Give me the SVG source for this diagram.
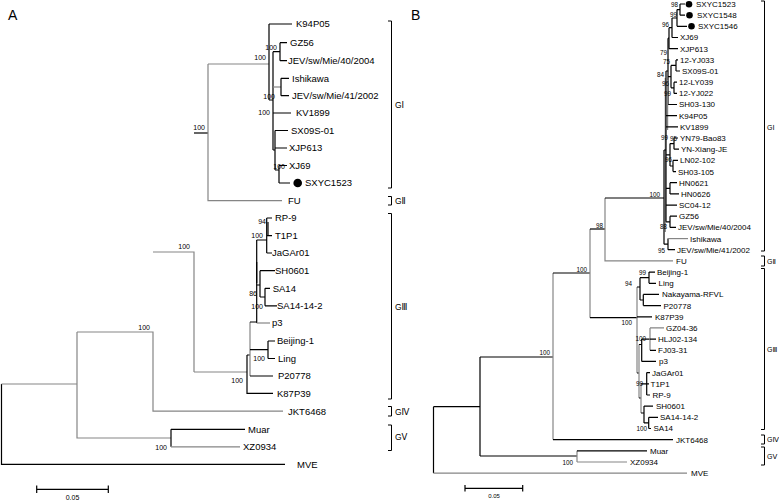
<svg xmlns="http://www.w3.org/2000/svg" width="779" height="501" viewBox="0 0 779 501">
<style>
text{font-family:"Liberation Sans",Arial,"DejaVu Sans",sans-serif;fill:#000}
.la{font-size:9.5px}
.lb{font-size:8px}
.ba{font-size:7px;text-anchor:end}
.bb{font-size:6.3px;text-anchor:end}
.gl{font-size:8.5px}
.glb{font-size:7px}
.k{stroke:#000;stroke-width:1.2;fill:none}
.g{stroke:#858585;stroke-width:1.2;fill:none}
.br{stroke:#000;stroke-width:1;fill:none}
.pl{font-size:14px}
</style>
<rect width="779" height="501" fill="#fff"/>
<text class="pl" x="8" y="20">A</text>
<text class="pl" x="411" y="20">B</text>

<g id="connectors">
<!-- Panel A -->
<path class="k" d="M1.5 384V464.3H285"/>
<path class="g" d="M1.5 384H77M77 332V438H171"/>
<path class="k" d="M171 429.3V446.8M171 429.3H245"/>
<path class="g" d="M171 446.8H240"/>
<path class="g" d="M77 332H153V411.2H283M153 252H194V372"/>
<path class="k" d="M194 133H208"/>
<path class="g" d="M208 64V200.7H282M208 64H269"/>
<path class="k" d="M269 24V100M269 24H292M269 100H273M273 51.7V150M273 51.7H280M280 42.7V60.7M280 42.7H287M280 60.7H287"/>
<path class="g" d="M273 87H281"/>
<path class="k" d="M281 78.3V95.7M281 78.3H289M281 95.7H289M273 113H291M273 150H275M275 130.5V170M275 130.5H288M275 148H287M275 170H279M279 165.5V183M279 165.5H287M279 183H290"/>
<path class="g" d="M194 372H247"/>
<path class="k" d="M247 355V393.3H273M247 355H250"/>
<path class="g" d="M250 322V376"/>
<path class="k" d="M250 376H273M250 349.7H268M268 341V358.5M268 341H275M268 358.5H275"/>
<path class="k" d="M256.7 240V323M250 322H256.7"/>
<path class="k" d="M256.7 262V283" stroke-width="2"/>
<path class="g" d="M256.7 323H270"/>
<path class="k" d="M256.7 285H260M260 270.7V297M260 270.7H275M260 297H265M265 288.3V305.8M265 288.3H270M265 305.8H277"/>
<path class="k" d="M256.7 240H266.7M266.7 218V253M266.7 218H272M266.7 235.7H272M266.7 253H272"/>
<path class="k" d="M268 222V236" stroke-width="1.6"/>
<!-- Panel B -->
<path class="k" d="M433.5 406.7V473.1"/>
<path class="g" d="M433.5 473.1H687"/>
<path class="k" d="M433.5 406.7H480M480 357V456M480 456H577"/>
<path class="g" d="M577 450.8V462M577 462H627"/>
<path class="k" d="M577 450.8H647"/>
<path class="k" d="M480 357H553"/>
<path class="g" d="M553 273V439.6"/>
<path class="k" d="M553 439.6H673M553 273H590"/>
<path class="g" d="M590 229V317.7"/>
<path class="k" d="M590 229H605"/>
<path class="g" d="M605 198V260.9H673"/>
<path class="k" d="M605 198H664M590 317.7H637"/>
<!-- B GI -->
<path class="k" d="M680 4V15.2M680 4H685M680 15.2H685M677 9.6V26.3M677 9.6H680M677 26.3H687"/>
<path class="k" d="M672 18V37.5M672 18H677M672 37.5H678M669 27.7V48.7M669 27.7H672M669 48.7H678"/>
<path class="k" d="M676 59.9V71M676 59.9H678M676 71H680M674 82.2V93.4M674 82.2H677M674 93.4H677M671 65.4V87.8M671 65.4H676M671 87.8H674"/>
<path class="k" d="M668 38.2V104.5M668 38.2H669M668 76.6H671M668 104.5H677"/>
<path class="g" d="M665.3 78V232" stroke-width="2"/>
<path class="g" d="M667.6 80V130" stroke-width="1.6"/>
<path class="k" d="M666 71V221.8M666 71H668M666 115.7H677M666 126.9H678M666 205.1H677"/>
<path class="k" d="M674 138V149.2M674 138H678M674 149.2H679M673 160.4V171.6M673 160.4H678M673 171.6H676M670 143.6V166M670 143.6H674M670 166H673M666 154.8H670"/>
<path class="k" d="M670 182.7V193.9M670 182.7H677M670 193.9H679M666 188.3H670"/>
<path class="k" d="M670 216.2V227.4M670 216.2H677M670 227.4H676M666 221.8H670"/>
<path class="k" d="M664 150V244.2M664 150H666M664 244.2H668"/>
<path class="k" d="M668 238.6V249.7M668 249.7H675"/>
<path class="g" d="M668 238.6H688"/>
<!-- B GIII -->
<path class="g" d="M637 287V373"/>
<path class="k" d="M637 287H640M637 316.8H652M637 373H639"/>
<path class="k" d="M640 277.7V300M640 277.7H649M640 300H643.3M649 272.1V283.3M649 272.1H655M649 283.3H656M643.3 294.4V305.6M643.3 294.4H659M643.3 305.6H661"/>
<path class="g" d="M639 344.5V398"/>
<path class="k" d="M639 344.5H641.7M641.7 339.1V361.4M641.7 339.1H650M641.7 361.4H656"/>
<path class="g" d="M650 327.9V350.3M650 327.9H664"/>
<path class="k" d="M650 339.1H656M650 350.3H656"/>
<path class="k" d="M639 398H641"/>
<path class="g" d="M641 383.8V413"/>
<path class="k" d="M641 383.8H646.7M646.7 372.6V395M646.7 372.6H650M646.7 383.8H649M646.7 395H650"/>
<path class="k" d="M641 413H644M644 406.1V422.9M644 406.1H653M644 422.9H648.7M648.7 417.3V428.5M648.7 417.3H658M648.7 428.5H651"/>
</g>

<g id="bootstrapA">
<text class="ba" x="266" y="60">100</text>
<text class="ba" x="277" y="50">100</text>
<text class="ba" x="275" y="99">100</text>
<text class="ba" x="270" y="115">100</text>
<text class="ba" x="285" y="169">100</text>
<text class="ba" x="205" y="130">100</text>
<text class="ba" x="190" y="249">100</text>
<text class="ba" x="150" y="330">100</text>
<text class="ba" x="167" y="450">100</text>
<text class="ba" x="266" y="224">94</text>
<text class="ba" x="263" y="238">100</text>
<text class="ba" x="257" y="295.5">86</text>
<text class="ba" x="263" y="309">100</text>
<text class="ba" x="265" y="361">100</text>
<text class="ba" x="243" y="383">100</text>
</g>

<g id="bootstrapB">
<text class="bb" x="678" y="7">98</text>
<text class="bb" x="677" y="17">99</text>
<text class="bb" x="669" y="26.5">96</text>
<text class="bb" x="667" y="54.5">79</text>
<text class="bb" x="670" y="64">75</text>
<text class="bb" x="664" y="77">84</text>
<text class="bb" x="669" y="86">96</text>
<text class="bb" x="671" y="95.5">99</text>
<text class="bb" x="677" y="141">95</text>
<text class="bb" x="668" y="139.5">99</text>
<text class="bb" x="672" y="162">96</text>
<text class="bb" x="660" y="196.5">100</text>
<text class="bb" x="667" y="229">88</text>
<text class="bb" x="665" y="252.5">95</text>
<text class="bb" x="603" y="228">98</text>
<text class="bb" x="587" y="271.5">100</text>
<text class="bb" x="550" y="355">100</text>
<text class="bb" x="573" y="464.5">100</text>
<text class="bb" x="646" y="274.5">99</text>
<text class="bb" x="632" y="285.5">94</text>
<text class="bb" x="632" y="325">100</text>
<text class="bb" x="646" y="340.5">100</text>
<text class="bb" x="643" y="385.5">99</text>
<text class="bb" x="647" y="431">100</text>
</g>

<!-- Panel A leaves -->
<g id="a-K94P05"><text class="la" x="296" y="27.4">K94P05</text></g>
<g id="a-GZ56"><text class="la" x="290" y="46.1">GZ56</text></g>
<g id="a-JEV40"><text class="la" x="288" y="64.1">JEV/sw/Mie/40/2004</text></g>
<g id="a-Ishikawa"><text class="la" x="292" y="81.7">Ishikawa</text></g>
<g id="a-JEV41"><text class="la" x="292" y="99.1">JEV/sw/Mie/41/2002</text></g>
<g id="a-KV1899"><text class="la" x="296" y="116.4">KV1899</text></g>
<g id="a-SX09S-01"><text class="la" x="291" y="133.9">SX09S-01</text></g>
<g id="a-XJP613"><text class="la" x="289" y="151.4">XJP613</text></g>
<g id="a-XJ69"><text class="la" x="289" y="168.9">XJ69</text></g>
<g id="a-SXYC1523"><circle cx="297.7" cy="183" r="4.3"/><text class="la" x="305" y="186.4">SXYC1523</text></g>
<g id="a-FU"><text class="la" x="288" y="204.1">FU</text></g>
<g id="a-RP-9"><text class="la" x="275" y="221.4">RP-9</text></g>
<g id="a-T1P1"><text class="la" x="275" y="239.1">T1P1</text></g>
<g id="a-JaGAr01"><text class="la" x="272" y="256.4">JaGAr01</text></g>
<g id="a-SH0601"><text class="la" x="275" y="274.1">SH0601</text></g>
<g id="a-SA14"><text class="la" x="272.7" y="291.7">SA14</text></g>
<g id="a-SA14-14-2"><text class="la" x="277" y="309.2">SA14-14-2</text></g>
<g id="a-p3"><text class="la" x="272" y="326.4">p3</text></g>
<g id="a-Beijing-1"><text class="la" x="277" y="344.4">Beijing-1</text></g>
<g id="a-Ling"><text class="la" x="278" y="361.9">Ling</text></g>
<g id="a-P20778"><text class="la" x="278" y="379.4">P20778</text></g>
<g id="a-K87P39"><text class="la" x="277" y="396.7">K87P39</text></g>
<g id="a-JKT6468"><text class="la" x="288" y="414.6">JKT6468</text></g>
<g id="a-Muar"><text class="la" x="248" y="432.7">Muar</text></g>
<g id="a-XZ0934"><text class="la" x="243" y="450.2">XZ0934</text></g>
<g id="a-MVE"><text class="la" x="297" y="467.7">MVE</text></g>

<g id="a-brackets">
<path class="br" d="M388 21H391.5V188H388M388 196.5H391.5V205H388M388 213.5H391.5V399H388M388 406.5H391.5V416H388M388 425H391.5V450.5H388"/>
<text class="gl" x="395" y="107.5">GⅠ</text>
<text class="gl" x="395" y="204">GⅡ</text>
<text class="gl" x="395" y="310">GⅢ</text>
<text class="gl" x="395" y="414.5">GⅣ</text>
<text class="gl" x="395" y="440">GⅤ</text>
</g>
<g id="a-scale">
<path class="k" d="M36.7 489.3H108.3M36.7 485.5V493M108.3 485.5V493"/>
<text x="72.5" y="500" font-size="7" text-anchor="middle">0.05</text>
</g>

<!-- Panel B leaves -->
<g id="b-SXYC1523"><circle cx="689" cy="4.2" r="3.3"/><text class="lb" x="696" y="6.9">SXYC1523</text></g>
<g id="b-SXYC1548"><circle cx="689.5" cy="15.2" r="3.3"/><text class="lb" x="697" y="18.1">SXYC1548</text></g>
<g id="b-SXYC1546"><circle cx="691.5" cy="26.3" r="3.3"/><text class="lb" x="698" y="29.2">SXYC1546</text></g>
<g id="b-XJ69"><text class="lb" x="680" y="40.4">XJ69</text></g>
<g id="b-XJP613"><text class="lb" x="680" y="51.6">XJP613</text></g>
<g id="b-12-YJ033"><text class="lb" x="680" y="62.8">12-YJ033</text></g>
<g id="b-SX09S-01"><text class="lb" x="682" y="73.9">SX09S-01</text></g>
<g id="b-12-LY039"><text class="lb" x="679" y="85.1">12-LY039</text></g>
<g id="b-12-YJ022"><text class="lb" x="679" y="96.3">12-YJ022</text></g>
<g id="b-SH03-130"><text class="lb" x="679" y="107.4">SH03-130</text></g>
<g id="b-K94P05"><text class="lb" x="679" y="118.6">K94P05</text></g>
<g id="b-KV1899"><text class="lb" x="680" y="129.8">KV1899</text></g>
<g id="b-YN79-Bao83"><text class="lb" x="680" y="140.9">YN79-Bao83</text></g>
<g id="b-YN-Xiang-JE"><text class="lb" x="681" y="152.1">YN-Xiang-JE</text></g>
<g id="b-LN02-102"><text class="lb" x="680" y="163.3">LN02-102</text></g>
<g id="b-SH03-105"><text class="lb" x="678" y="174.5">SH03-105</text></g>
<g id="b-HN0621"><text class="lb" x="679" y="185.6">HN0621</text></g>
<g id="b-HN0626"><text class="lb" x="681" y="196.8">HN0626</text></g>
<g id="b-SC04-12"><text class="lb" x="679" y="208">SC04-12</text></g>
<g id="b-GZ56"><text class="lb" x="679" y="219.1">GZ56</text></g>
<g id="b-JEV40"><text class="lb" x="678" y="230.3">JEV/sw/Mie/40/2004</text></g>
<g id="b-Ishikawa"><text class="lb" x="690" y="241.5">Ishikawa</text></g>
<g id="b-JEV41"><text class="lb" x="677" y="252.6">JEV/sw/Mie/41/2002</text></g>
<g id="b-FU"><text class="lb" x="676" y="263.8">FU</text></g>
<g id="b-Beijing-1"><text class="lb" x="657" y="275">Beijing-1</text></g>
<g id="b-Ling"><text class="lb" x="658.5" y="286.2">Ling</text></g>
<g id="b-Nakayama-RFVL"><text class="lb" x="662" y="297.3">Nakayama-RFVL</text></g>
<g id="b-P20778"><text class="lb" x="663.5" y="308.5">P20778</text></g>
<g id="b-K87P39"><text class="lb" x="655" y="319.7">K87P39</text></g>
<g id="b-GZ04-36"><text class="lb" x="666" y="330.8">GZ04-36</text></g>
<g id="b-HLJ02-134"><text class="lb" x="658" y="342">HLJ02-134</text></g>
<g id="b-FJ03-31"><text class="lb" x="658" y="353.2">FJ03-31</text></g>
<g id="b-p3"><text class="lb" x="659" y="364.3">p3</text></g>
<g id="b-JaGAr01"><text class="lb" x="652" y="375.5">JaGAr01</text></g>
<g id="b-T1P1"><text class="lb" x="650.5" y="386.7">T1P1</text></g>
<g id="b-RP-9"><text class="lb" x="652.5" y="397.9">RP-9</text></g>
<g id="b-SH0601"><text class="lb" x="656" y="409">SH0601</text></g>
<g id="b-SA14-14-2"><text class="lb" x="660" y="420.2">SA14-14-2</text></g>
<g id="b-SA14"><text class="lb" x="653.5" y="431.4">SA14</text></g>
<g id="b-JKT6468"><text class="lb" x="676" y="442.5">JKT6468</text></g>
<g id="b-Muar"><text class="lb" x="650" y="453.7">Muar</text></g>
<g id="b-XZ0934"><text class="lb" x="630" y="464.9">XZ0934</text></g>
<g id="b-MVE"><text class="lb" x="691" y="476">MVE</text></g>

<g id="b-brackets">
<path class="br" d="M761 1H764.5V251H761M761 256H764.5V266H761M761 268.5H764.5V429.5H761M761 435H764.5V444H761M761 447H764.5V465H761"/>
<text class="glb" x="767" y="130">GⅠ</text>
<text class="glb" x="767" y="263.5">GⅡ</text>
<text class="glb" x="767" y="352">GⅢ</text>
<text class="glb" x="767" y="442">GⅣ</text>
<text class="glb" x="767" y="458.5">GⅤ</text>
</g>
<g id="b-scale">
<path class="k" d="M465 488.3H522.7M465 485V491.5M522.7 485V491.5"/>
<text x="494" y="498" font-size="6" text-anchor="middle">0.05</text>
</g>
</svg>
